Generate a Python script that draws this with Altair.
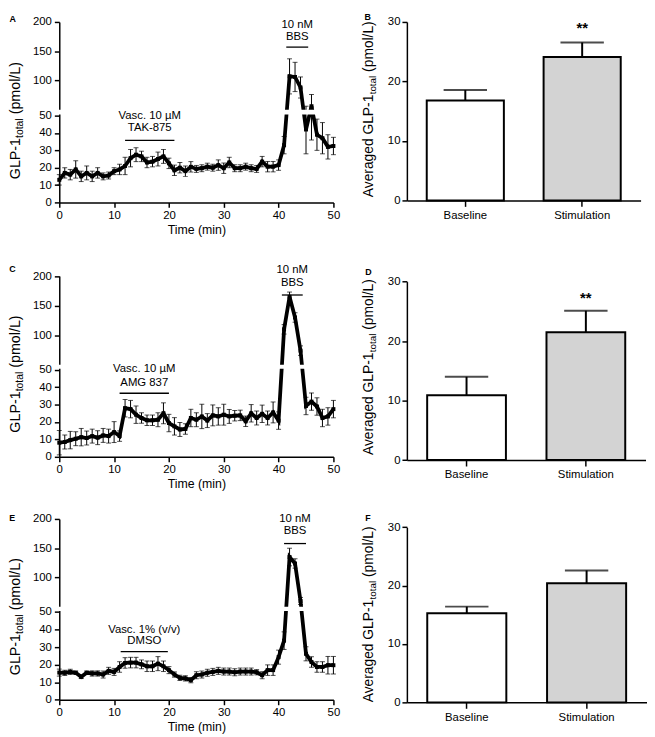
import altair as alt
import pandas as pd

FONT = "Liberation Sans"

# ---------------- data ----------------
time_min = list(range(51))

A_mean = [13, 17, 16, 19, 15, 17, 15, 17, 15, 15.5,
          18, 19, 21, 25.5, 27.5, 26.5, 23, 23.5, 25, 26.5,
          22.5, 18.5, 20, 18, 20.5, 19.3, 19.7, 20.6, 20, 21.5,
          19.7, 23, 19.7, 19.7, 20.6, 19.7, 19.3, 23.5, 20.6, 20.6,
          21.5, 33, 107, 106, 88, 42, 56, 39, 37, 32, 32.5]
A_sem = [3, 3, 3, 5, 3, 4, 3, 3, 2, 2,
         2, 3, 5, 5, 4, 3, 3, 3, 4, 4,
         3, 3, 3, 3, 3, 2, 2, 2, 2, 3,
         3, 3, 2, 2, 2, 2, 2, 3, 3, 3,
         3, 5, 30, 25, 18, 14, 20, 9, 9, 7, 5]

C_mean = [8.1, 8.5, 9.6, 10.4, 11.3, 10.8, 11.9, 11, 12.3, 11.9,
          14.2, 11.9, 27.9, 27.4, 24.2, 22.3, 21, 21, 21.3, 25,
          19.4, 17.5, 15.7, 16, 22.3, 21.3, 23.2, 20.8, 23.8, 23.2,
          24.2, 23.2, 23.6, 23.8, 20.4, 25, 22.3, 24.7, 22.3, 25.5,
          20.8, 110, 165, 130, 74, 29.2, 31.7, 28.9, 22.3, 23.2, 27.4]
C_sem = [7, 4, 5, 4, 5, 4, 4, 4, 4, 4,
         6, 3, 5, 5, 5, 3, 3, 3, 4, 6,
         5, 5, 4, 3, 5, 4, 7, 4, 6, 5,
         6, 4, 3, 3, 3, 5, 4, 5, 4, 6,
         5, 8, 8, 8, 8, 5, 5, 5, 5, 5, 5]

E_mean = [15.5, 15.4, 15.9, 15.4, 13.1, 15.4, 15, 15, 14.4, 16.5,
          15.9, 18.7, 21, 21.2, 21.2, 20.2, 19.1, 19.1, 20.6, 19.1,
          16.9, 14.4, 12.5, 12.2, 11.2, 14, 14.4, 15.4, 15.9, 16.5,
          16.1, 16.1, 15.7, 16.1, 16.1, 16.1, 15.7, 14, 16.9, 16.9,
          24.3, 33.7, 135, 124, 60, 26.2, 21.5, 18.7, 18.7, 19.7, 19.7]
E_sem = [2, 1.5, 1.5, 1, 1, 1, 1.5, 1.5, 2, 2,
         2, 3, 3, 3, 3, 2.5, 3, 3, 4, 3,
         2, 1.5, 1.5, 1.5, 1.5, 2, 2, 2, 2, 2,
         2, 2, 2, 2, 2, 2, 1.5, 2, 3, 3,
         4, 5, 15, 8, 6, 4, 3, 3, 3, 5, 5]

bar_categories = ["Baseline", "Stimulation"]
B_mean = [16.8, 24.1]
B_sem = [1.75, 2.45]
D_mean = [10.9, 21.5]
D_sem = [3.1, 3.6]
F_mean = [15.25, 20.4]
F_sem = [1.15, 2.2]
B_sig = ["", "**"]
D_sig = ["", "**"]
F_sig = ["", ""]

A_vasc_text = ["Vasc. 10 µM", "TAK-875"]
C_vasc_text = ["Vasc. 10 µM", "AMG 837"]
E_vasc_text = ["Vasc. 1% (v/v)", "DMSO"]
bbs_text = ["10 nM", "BBS"]
# treatment windows (min) and annotation bar level (pmol/L)
A_vasc = (12, 21, 35.8)
C_vasc = (11, 20, 36.5)
E_vasc = (11.2, 19.8, 27.5)
A_bbs = (41.4, 45.4, 157)
C_bbs = (40.6, 44.4, 168)
E_bbs = (41, 45, 158)

ts_ticks = [0, 10, 20, 30, 40, 50, 100, 150, 200]
x_ticks = [0, 10, 20, 30, 40, 50]
bar_ticks = [0, 10, 20, 30]
TIME_TITLE = "Time (min)"

# ---------------- helpers ----------------
CW = {'A': 667, 'v': 500, 'e': 556, 'r': 333, 'a': 556, 'g': 556, 'd': 556, ' ': 278,
      'G': 778, 'L': 556, 'P': 667, '-': 333, '1': 556, 't': 278, 'o': 556, 'l': 222,
      '(': 333, 'p': 556, 'm': 833, '/': 278, ')': 333}


def tw(s, fs):
    return sum(CW.get(c, 556) for c in s) / 1000.0 * fs


def text_at(s, x, y, size=12, weight="normal", angle=0, align="left",
            baseline="alphabetic"):
    return alt.Chart(pd.DataFrame({"s": [s]})).mark_text(
        font=FONT, fontSize=size, fontWeight=weight, angle=angle, align=align,
        baseline=baseline, color="black").encode(
        text="s:N", x=alt.value(x), y=alt.value(y))


def rotated_title(prefix, x, cy, fs, fs_sub):
    parts = [(prefix, fs, 0), ("total", fs_sub, 3), (None, fs, 0), ("(pmol/L)", fs, 0)]
    widths = []
    for p, f, _ in parts:
        widths.append(tw(" ", f) if p is None else tw(p, f))
    total = sum(widths)
    y = cy + total / 2
    layers = []
    for (p, f, sh), w in zip(parts, widths):
        if p is not None:
            layers.append(text_at(p, x + sh, y, size=f, angle=270))
        y -= w
    return layers


def ts_panel(letter, mean, sem, vasc, vasc_txt, vasc_dy, bbs, bbs_dy,
             W, H, yrange, letter_pos, title_x, title_cy):
    df = pd.DataFrame({"t": time_min, "m": mean,
                       "lo": [m - s for m, s in zip(mean, sem)],
                       "hi": [m + s for m, s in zip(mean, sem)]})
    ysc = alt.Scale(domain=[0, 50, 50.001, 200], range=yrange, nice=False, zero=False)
    xsc = alt.Scale(domain=[0, 50], nice=False, zero=False)
    xaxis = alt.Axis(values=x_ticks, tickSize=5, labelPadding=2, titlePadding=3,
                     labelFlush=False, labelOverlap=False, title=TIME_TITLE)
    yaxis = alt.Axis(values=ts_ticks, tickSize=5, labelPadding=3, zindex=0,
                     labelOverlap=False, title=None)

    def X(f):
        return alt.X(f, scale=xsc, axis=xaxis, title=TIME_TITLE)

    def Y(f):
        return alt.Y(f, scale=ysc, axis=yaxis, title=None)

    base = alt.Chart(df)
    err = base.mark_rule(color="black", strokeWidth=1).encode(
        x=X("t:Q"), y=Y("lo:Q"), y2="hi:Q")
    cap_hi = base.mark_tick(orient="horizontal", size=5, thickness=1, color="black").encode(
        x=X("t:Q"), y=Y("hi:Q"))
    cap_lo = base.mark_tick(orient="horizontal", size=5, thickness=1, color="black").encode(
        x=X("t:Q"), y=Y("lo:Q"))
    line = base.mark_line(color="black", strokeWidth=3.8).encode(x=X("t:Q"), y=Y("m:Q"))
    pts = base.mark_square(color="black", size=16, opacity=1).encode(x=X("t:Q"), y=Y("m:Q"))
    mask = alt.Chart(pd.DataFrame({"a": [50.0002], "b": [50.001]})).mark_rect(
        color="white").encode(y=Y("a:Q"), y2="b:Q",
                              x=alt.value(-3), x2=alt.value(W + 4))
    # annotations
    adf = pd.DataFrame({"x0": [vasc[0], bbs[0]], "x1": [vasc[1], bbs[1]],
                        "yb": [vasc[2], bbs[2]],
                        "xc": [(vasc[0] + vasc[1]) / 2, (bbs[0] + bbs[1]) / 2]})
    abars = alt.Chart(adf).mark_rule(color="black", strokeWidth=1.3).encode(
        x=X("x0:Q"), x2="x1:Q", y=Y("yb:Q"))
    layers = [err, cap_hi, cap_lo, line, pts, mask, abars]
    for rows, txts, dys in [(adf.iloc[[0]], vasc_txt, vasc_dy), (adf.iloc[[1]], bbs_text, bbs_dy)]:
        for t, dy in zip(txts, dys):
            d = rows.copy()
            d["s"] = t
            layers.append(alt.Chart(d).mark_text(
                font=FONT, fontSize=11.5, color="black", baseline="middle", dy=dy).encode(
                x=X("xc:Q"), y=Y("yb:Q"), text="s:N"))
    layers.append(text_at(letter, letter_pos[0], letter_pos[1], size=9, weight="bold"))
    layers += rotated_title("GLP-1", title_x, title_cy, 14.5, 10.5)
    return alt.layer(*layers).properties(width=W, height=H)


def bar_panel(letter, mean, sem, sig, star_dy, W, H, yrange, letter_pos, title_x, title_cy):
    df = pd.DataFrame({"cat": bar_categories, "m": mean,
                       "hi": [m + s for m, s in zip(mean, sem)],
                       "fill": ["white", "#d3d3d3"], "sig": sig})
    ysc = alt.Scale(domain=[0, 30], range=yrange, nice=False, zero=True)
    xsc = alt.Scale(domain=bar_categories, paddingInner=0.34, paddingOuter=0.17)
    xaxis = alt.Axis(labelAngle=0, tickSize=6, labelPadding=3, labelOverlap=False, title=None)
    yaxis = alt.Axis(values=bar_ticks, tickSize=5, labelPadding=2, labelOverlap=False, title=None)

    def X():
        return alt.X("cat:N", scale=xsc, title=None, sort=bar_categories, axis=xaxis)

    def Y(f):
        return alt.Y(f, scale=ysc, title=None, axis=yaxis)

    base = alt.Chart(df)
    err = base.mark_rule(color="black", strokeWidth=2).encode(x=X(), y=Y("m:Q"), y2="hi:Q")
    cap = base.mark_tick(orient="horizontal", size=44, thickness=2, color="black").encode(
        x=X(), y=Y("hi:Q"))
    bars = base.mark_bar(stroke="black", strokeWidth=2).encode(
        x=X(), y=Y("m:Q"), fill=alt.Fill("fill:N", scale=None))
    stars = base.mark_text(font=FONT, fontSize=15, fontWeight="bold", color="black",
                           baseline="middle", dy=star_dy).encode(
        x=X(), y=Y("hi:Q"), text="sig:N")
    layers = [err, cap, bars, stars,
              text_at(letter, letter_pos[0], letter_pos[1], size=9, weight="bold")]
    layers += rotated_title("Averaged GLP-1", title_x, title_cy, 14, 10)
    return alt.layer(*layers).properties(width=W, height=H)


A = ts_panel("A", A_mean, A_sem, A_vasc, A_vasc_text, [-25, -12], A_bbs, [-22.5, -10.7],
             278, 183, [183, 95, 89, 0], (-50.5, 0), -40, 100)
C = ts_panel("C", C_mean, C_sem, C_vasc, C_vasc_text, [-25, -10], C_bbs, [-25, -11.7],
             278, 199, [199, 110.7, 105.7, 15.7], (-50.8, 12), -40, 115)
E = ts_panel("E", E_mean, E_sem, E_vasc, E_vasc_text, [-22, -11], E_bbs, [-25, -12.3],
             278, 183.4, [183.4, 94.4, 89.1, 0], (-50.8, 1.7), -40, 99)
B = bar_panel("B", B_mean, B_sem, B_sig, -15, 237, 181, [181, 0], (-43, -2), -34, 88.5)
D = bar_panel("D", D_mean, D_sem, D_sig, -13, 242, 202.3, [202.3, 21.3], (-42.3, 15), -34, 108)
F = bar_panel("F", F_mean, F_sem, F_sig, -13, 243, 186, [186, 8.4], (-42.3, 1.7), -34, 96.7)

chart = alt.concat(A, B, C, D, E, F, columns=2, bounds="flush",
                   spacing=alt.RowColnumber(row=59, column=74.5)).properties(
    padding={"left": 0, "top": 0, "right": 0, "bottom": 0}
).configure_axis(
    domainColor="black", domainWidth=1.5, tickColor="black", tickWidth=1.5,
    labelColor="black", labelFont=FONT, labelFontSize=11.5, titleFont=FONT,
    titleFontSize=12.5, titleColor="black", titleFontWeight="normal", grid=False
).configure_view(stroke=None)

chart.save("out.html", embed_options={"renderer": "svg", "actions": False})
